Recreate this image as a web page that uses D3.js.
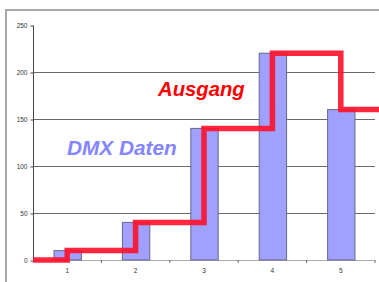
<!DOCTYPE html>
<html><head><meta charset="utf-8">
<script src="https://cdn.jsdelivr.net/npm/d3@7"></script>
<style>html,body{margin:0;padding:0;background:#fff;}svg{display:block;}</style>
</head><body>
<script>
const categories = ["1","2","3","4","5"];
const dmxDaten = [10, 40, 140, 220, 160];
const ausgangStart = 0;
const ausgang = [10, 40, 140, 220, 160];
const yTicks = [0, 50, 100, 150, 200, 250];

const W = 379, H = 282;
const svg = d3.select("body").append("svg").attr("width", W).attr("height", H);

// outer frame
svg.append("path").attr("d", "M6,282V10H379").attr("fill","none")
  .attr("stroke","#a8a8a8").attr("stroke-width",2);

const x = d3.scaleBand().domain(categories).range([33, 375]).paddingInner(0.6).paddingOuter(0.3);
const y = d3.scaleLinear().domain([0, 250]).range([260, 25]);

// gridlines
svg.append("g").selectAll("line").data(yTicks.filter(t => t > 0 && t < 250)).join("line")
  .attr("x1", 33).attr("x2", 375)
  .attr("y1", d => Math.round(y(d)) + 0.5).attr("y2", d => Math.round(y(d)) + 0.5)
  .attr("stroke", "#6a6a6a").attr("stroke-width", 1);

// y axis
const yAxis = svg.append("g").attr("transform", "translate(33.5,0.5)")
  .call(d3.axisLeft(y).tickValues(yTicks).tickSize(3).tickPadding(3));
yAxis.select(".domain").attr("stroke", "#444").attr("d", `M0,${y(250)}V${y(0)}`);
yAxis.selectAll(".tick line").attr("stroke", "#444");
yAxis.selectAll("text").attr("font-family", "Liberation Sans, Arial, sans-serif")
  .attr("font-size", 6.5).attr("fill", "#333");

// x baseline
svg.append("line").attr("x1", 33).attr("x2", 375).attr("y1", y(0)+0.5).attr("y2", y(0)+0.5)
  .attr("stroke", "#aaa").attr("stroke-width", 1.2);
// x ticks at category boundaries
const step = x.step();
svg.append("g").selectAll("line").data(categories.slice(1).concat(["end"])).join("line")
  .attr("x1", d => d === "end" ? 375 : x(d) - (step - x.bandwidth()) / 2)
  .attr("x2", d => d === "end" ? 375 : x(d) - (step - x.bandwidth()) / 2)
  .attr("y1", y(0)).attr("y2", y(0) + 3).attr("stroke", "#666");
svg.append("g").selectAll("text").data(categories).join("text")
  .attr("x", d => x(d) + x.bandwidth() / 2).attr("y", 273)
  .attr("text-anchor", "middle").attr("font-family", "Liberation Sans, Arial, sans-serif")
  .attr("font-size", 6.5).attr("fill", "#333").text(d => d);

// bars
svg.append("g").selectAll("rect").data(dmxDaten).join("rect")
  .attr("x", (d, i) => x(categories[i]) + 0.5)
  .attr("y", d => y(d))
  .attr("width", x.bandwidth())
  .attr("height", d => y(0) - y(d))
  .attr("fill", "#a0a0ff").attr("stroke", "#666688").attr("stroke-width", 1);

// step line
const pts = [[33, ausgangStart]].concat(ausgang.map((v, i) => [x(categories[i]) + x.bandwidth() / 2, v]))
  .concat([[W + 5, ausgang[ausgang.length - 1]]]);
svg.append("path").datum(pts)
  .attr("d", d3.line().x(d => d[0]).y(d => y(d[1])).curve(d3.curveStepAfter))
  .attr("fill", "none").attr("stroke", "#ff1028").attr("stroke-opacity", 0.9)
  .attr("stroke-width", 5.5).attr("stroke-linejoin", "miter");

// labels
svg.append("text").attr("x", 158).attr("y", 96).text("Ausgang")
  .attr("font-family", "Liberation Sans, Arial, sans-serif").attr("font-weight", "bold")
  .attr("font-style", "italic").attr("font-size", 20.3).attr("fill", "#ff0000");
svg.append("text").attr("x", 67).attr("y", 155).text("DMX Daten")
  .attr("font-family", "Liberation Sans, Arial, sans-serif").attr("font-weight", "bold")
  .attr("font-style", "italic").attr("font-size", 20.8).attr("fill", "#8585ff");
</script>
</body></html>
